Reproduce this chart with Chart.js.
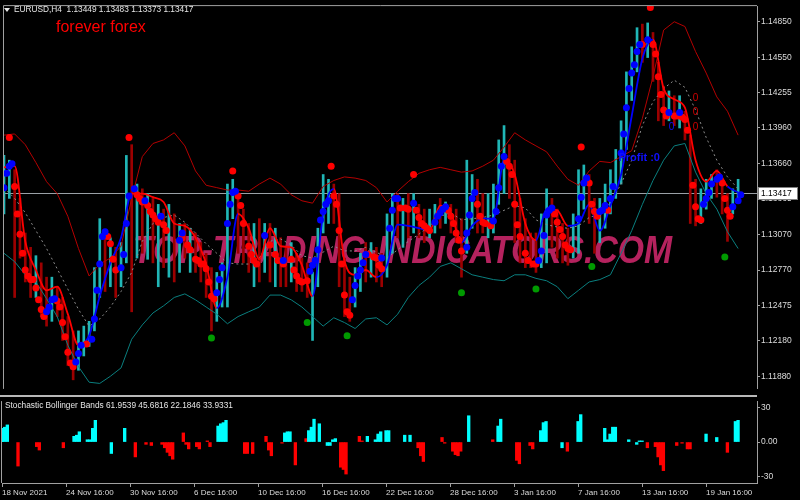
<!DOCTYPE html>
<html>
<head>
<meta charset="utf-8">
<script src="https://cdn.jsdelivr.net/npm/chart.js@4.4.0/dist/chart.umd.min.js"></script>
<style>
    html, body { margin: 0; padding: 0; background: #000; }
    #wrap { position: relative; width: 800px; height: 500px; background: #000; overflow: hidden; }
    #price_chart { position: absolute; left: 0; top: 0; }
    #osc_chart { position: absolute; left: 0; top: 395px; }
</style>
</head>
<body>
<div id="wrap">
    <canvas id="price_chart" width="800" height="395"></canvas>
    <canvas id="osc_chart" width="800" height="105"></canvas>
</div>
<script>
// EURUSD H4, every 2nd bar (bar index = 2 * i)
var barHigh = [1.1373, 1.1369, 1.1361, 1.1337, 1.1308, 1.1296, 1.1289, 1.1283, 1.1271, 1.1271,
    1.1263, 1.1254, 1.1238, 1.1226, 1.1226, 1.1230, 1.1234, 1.1279, 1.1320, 1.1308,
    1.1304, 1.1296, 1.1300, 1.1373, 1.1382, 1.1349, 1.1345, 1.1341, 1.1337, 1.1332,
    1.1328, 1.1332, 1.1324, 1.1316, 1.1316, 1.1312, 1.1308, 1.1300, 1.1291, 1.1279,
    1.1275, 1.1283, 1.1349, 1.1353, 1.1341, 1.1328, 1.1316, 1.1316, 1.1320, 1.1316,
    1.1316, 1.1312, 1.1304, 1.1296, 1.1300, 1.1291, 1.1287, 1.1283, 1.1275, 1.1312,
    1.1357, 1.1353, 1.1349, 1.1341, 1.1287, 1.1271, 1.1279, 1.1291, 1.1300, 1.1300,
    1.1296, 1.1291, 1.1324, 1.1341, 1.1341, 1.1337, 1.1341, 1.1341, 1.1332, 1.1328,
    1.1328, 1.1332, 1.1337, 1.1334, 1.1332, 1.1328, 1.1320, 1.1369, 1.1357, 1.1353,
    1.1341, 1.1341, 1.1349, 1.1386, 1.1398, 1.1382, 1.1369, 1.1337, 1.1320, 1.1308,
    1.1308, 1.1324, 1.1345, 1.1337, 1.1328, 1.1316, 1.1312, 1.1324, 1.1361, 1.1365,
    1.1357, 1.1337, 1.1337, 1.1349, 1.1361, 1.1378, 1.1402, 1.1443, 1.1464, 1.1480,
    1.1483, 1.1484, 1.1476, 1.1451, 1.1431, 1.1427, 1.1423, 1.1423, 1.1410, 1.1390,
    1.1353, 1.1345, 1.1353, 1.1357, 1.1361, 1.1353, 1.1341, 1.1345, 1.1353];
var barLow = [1.1324, 1.1337, 1.1254, 1.1287, 1.1267, 1.1254, 1.1254, 1.1238, 1.1230, 1.1234,
    1.1238, 1.1218, 1.1197, 1.1185, 1.1193, 1.1205, 1.1213, 1.1226, 1.1254, 1.1259,
    1.1263, 1.1254, 1.1263, 1.1283, 1.1242, 1.1287, 1.1291, 1.1286, 1.1283, 1.1263,
    1.1279, 1.1271, 1.1267, 1.1275, 1.1287, 1.1275, 1.1275, 1.1267, 1.1254, 1.1226,
    1.1234, 1.1246, 1.1246, 1.1320, 1.1291, 1.1283, 1.1275, 1.1263, 1.1267, 1.1275,
    1.1267, 1.1263, 1.1263, 1.1263, 1.1267, 1.1259, 1.1259, 1.1254, 1.1218, 1.1263,
    1.1308, 1.1316, 1.1316, 1.1263, 1.1238, 1.1234, 1.1246, 1.1259, 1.1267, 1.1271,
    1.1267, 1.1263, 1.1271, 1.1291, 1.1304, 1.1296, 1.1304, 1.1308, 1.1304, 1.1300,
    1.1304, 1.1308, 1.1312, 1.1316, 1.1308, 1.1300, 1.1271, 1.1291, 1.1312, 1.1308,
    1.1308, 1.1304, 1.1308, 1.1332, 1.1341, 1.1337, 1.1300, 1.1283, 1.1279, 1.1279,
    1.1275, 1.1279, 1.1283, 1.1296, 1.1287, 1.1283, 1.1281, 1.1287, 1.1291, 1.1328,
    1.1316, 1.1291, 1.1300, 1.1312, 1.1324, 1.1337, 1.1349, 1.1378, 1.1419, 1.1443,
    1.1451, 1.1455, 1.1435, 1.1402, 1.1398, 1.1402, 1.1398, 1.1396, 1.1386, 1.1316,
    1.1314, 1.1316, 1.1328, 1.1337, 1.1338, 1.1324, 1.1301, 1.1324, 1.1337];
// u = bull bar, d = bear bar
var barDir = 'uudddduddu' + 'dddduuuuud' + 'uduudududu' + 'dudududddd' + 'uuuudddudu' +
    'dudduddduu' + 'uudddduudu' + 'dduudududd' + 'uududdduud' + 'duuuuddddd' +
    'duudddduuu' + 'dduuuuuuuu' + 'dudddududd' + 'duuuddduu';

// bollinger bands, every 4th bar
var bandUpper = [1.1390, 1.1391, 1.1382, 1.1367, 1.1351, 1.1341, 1.1322, 1.1295, 1.1272, 1.1282,
    1.1287, 1.1297, 1.1337, 1.1372, 1.1383, 1.1386, 1.1392, 1.1381, 1.1360, 1.1348,
    1.1346, 1.1344, 1.1344, 1.1343, 1.1349, 1.1354, 1.1349, 1.1340, 1.1335, 1.1333,
    1.1347, 1.1352, 1.1355, 1.1354, 1.1352, 1.1346, 1.1334, 1.1343, 1.1351, 1.1358,
    1.1361, 1.1363, 1.1361, 1.1359, 1.1360, 1.1364, 1.1369, 1.1380, 1.1392, 1.1386,
    1.1381, 1.1376, 1.1364, 1.1353, 1.1348, 1.1360, 1.1368, 1.1367, 1.1372, 1.1377,
    1.1404, 1.1439, 1.1478, 1.1485, 1.1481, 1.1460, 1.1442, 1.1422, 1.1410, 1.1390];
var bandMid = [1.1346, 1.1337, 1.1325, 1.1310, 1.1295, 1.1278, 1.1261, 1.1244, 1.1230, 1.1236,
    1.1246, 1.1259, 1.1275, 1.1301, 1.1316, 1.1321, 1.1323, 1.1317, 1.1308, 1.1299,
    1.1291, 1.1283, 1.1282, 1.1282, 1.1287, 1.1301, 1.1303, 1.1298, 1.1289, 1.1287,
    1.1292, 1.1297, 1.1293, 1.1293, 1.1296, 1.1292, 1.1287, 1.1294, 1.1301, 1.1307,
    1.1314, 1.1322, 1.1325, 1.1319, 1.1320, 1.1321, 1.1323, 1.1327, 1.1331, 1.1329,
    1.1319, 1.1315, 1.1313, 1.1312, 1.1314, 1.1321, 1.1324, 1.1334, 1.1349, 1.1369,
    1.1398, 1.1418, 1.1429, 1.1436, 1.1430, 1.1411, 1.1388, 1.1369, 1.1355, 1.1345];
var bandLower = [1.1291, 1.1284, 1.1273, 1.1267, 1.1253, 1.1238, 1.1214, 1.1196, 1.1183, 1.1182,
    1.1188, 1.1195, 1.1219, 1.1231, 1.1241, 1.1247, 1.1254, 1.1257, 1.1252, 1.1246,
    1.1240, 1.1232, 1.1238, 1.1242, 1.1246, 1.1256, 1.1256, 1.1252, 1.1246, 1.1238,
    1.1230, 1.1237, 1.1233, 1.1228, 1.1236, 1.1237, 1.1231, 1.1240, 1.1254, 1.1264,
    1.1271, 1.1280, 1.1283, 1.1278, 1.1273, 1.1271, 1.1269, 1.1268, 1.1273, 1.1273,
    1.1270, 1.1268, 1.1263, 1.1253, 1.1260, 1.1267, 1.1269, 1.1273, 1.1291, 1.1310,
    1.1332, 1.1352, 1.1369, 1.1381, 1.1383, 1.1359, 1.1341, 1.1328, 1.1309, 1.1295];

// trend line, every 4th bar; r = falling (red), b = rising (blue)
var trendLine = [1.1363, 1.1364, 1.1301, 1.1277, 1.1260, 1.1263, 1.1240, 1.1214, 1.1222, 1.1255,
    1.1283, 1.1304, 1.1341, 1.1341, 1.1338, 1.1334, 1.1316, 1.1314, 1.1304, 1.1282,
    1.1245, 1.1271, 1.1324, 1.1312, 1.1286, 1.1312, 1.1297, 1.1296, 1.1281, 1.1255,
    1.1324, 1.1345, 1.1285, 1.1273, 1.1277, 1.1271, 1.1281, 1.1315, 1.1314, 1.1312,
    1.1310, 1.1331, 1.1325, 1.1300, 1.1314, 1.1320, 1.1320, 1.1369, 1.1357, 1.1316,
    1.1302, 1.1328, 1.1327, 1.1314, 1.1316, 1.1332, 1.1310, 1.1331, 1.1357, 1.1406,
    1.1454, 1.1470, 1.1429, 1.1420, 1.1413, 1.1369, 1.1351, 1.1360, 1.1347, 1.1342];
var trendDir = 'rrrrrrrrbb' + 'bbbrrrrrrr' + 'rbbrrrrrrr' + 'bbrrrrbbbb' + 'brrrbbbbrr' + 'rbrrbbbbbb' + 'bbrrrrrrrb';

// signal dots (bar index, price)
var redDotBar = [2, 4, 5, 6, 7, 8, 9, 10, 11, 12, 13, 14, 15, 20, 21, 22, 23, 24, 25, 26,
    31, 39, 40, 41, 42, 47, 50, 51, 52, 54, 55, 56, 57, 58, 60, 61, 67, 69, 70, 72,
    73, 74, 75, 76, 77, 78, 79, 86, 88, 89, 90, 92, 93, 94, 95, 100, 102, 103, 105, 108,
    109, 110, 111, 112, 114, 123, 124, 125, 126, 127, 128, 129, 130, 137, 139, 140, 141, 142, 149, 151,
    152, 154, 155, 156, 157, 158, 159, 160, 167, 168, 169, 170, 171, 172, 178, 179, 180, 181, 183, 189,
    190, 191, 192, 193, 194, 196, 197, 199, 200, 207, 208, 209, 210, 211, 212, 213, 217, 220, 221, 222,
    223, 227, 240, 243, 244, 245, 246, 247, 248, 249, 252, 253, 255, 256, 257, 259, 260, 261, 262, 270,
    271, 272, 273];
var redDotVal = [1.1388, 1.1347, 1.1324, 1.1307, 1.1291, 1.1277, 1.1272, 1.1269, 1.1269, 1.1262,
    1.1252, 1.1244, 1.1238, 1.1251, 1.1246, 1.1233, 1.1221, 1.1208, 1.1199, 1.1196,
    1.1215, 1.1305, 1.1299, 1.1286, 1.1277, 1.1388, 1.1340, 1.1337, 1.1334, 1.1331,
    1.1326, 1.1323, 1.1320, 1.1317, 1.1315, 1.1310, 1.1304, 1.1298, 1.1294, 1.1286,
    1.1285, 1.1282, 1.1282, 1.1278, 1.1267, 1.1255, 1.1253, 1.1360, 1.1339, 1.1331,
    1.1316, 1.1297, 1.1290, 1.1285, 1.1282, 1.1298, 1.1290, 1.1285, 1.1282, 1.1286,
    1.1277, 1.1272, 1.1268, 1.1267, 1.1268, 1.1364, 1.1339, 1.1332, 1.1310, 1.1282,
    1.1256, 1.1242, 1.1239, 1.1290, 1.1288, 1.1287, 1.1281, 1.1278, 1.1329, 1.1329,
    1.1328, 1.1357, 1.1327, 1.1321, 1.1316, 1.1314, 1.1312, 1.1310, 1.1327, 1.1322,
    1.1316, 1.1308, 1.1302, 1.1293, 1.1332, 1.1322, 1.1317, 1.1316, 1.1314, 1.1368,
    1.1364, 1.1357, 1.1332, 1.1315, 1.1305, 1.1291, 1.1285, 1.1282, 1.1282, 1.1324,
    1.1317, 1.1311, 1.1305, 1.1298, 1.1295, 1.1294, 1.1380, 1.1350, 1.1332, 1.1326,
    1.1322, 1.1327, 1.1466, 1.1497, 1.1466, 1.1458, 1.1439, 1.1424, 1.1411, 1.1406,
    1.1406, 1.1406, 1.1405, 1.1403, 1.1394, 1.1348, 1.1330, 1.1320, 1.1319, 1.1350,
    1.1337, 1.1327, 1.1322];
var blueDotBar = [0, 1, 2, 3, 16, 17, 18, 19, 27, 28, 29, 33, 34, 35, 36, 37, 38, 44, 45, 46,
    47, 49, 53, 59, 66, 67, 80, 81, 82, 84, 85, 86, 87, 98, 105, 115, 116, 117, 118, 119,
    120, 121, 122, 131, 132, 133, 134, 135, 136, 142, 145, 146, 147, 148, 154, 162, 163, 164, 165, 166,
    174, 174, 175, 176, 177, 184, 185, 186, 187, 188, 201, 202, 203, 204, 205, 206, 216, 217, 218, 219,
    224, 225, 226, 228, 229, 232, 233, 234, 235, 236, 237, 238, 239, 242, 250, 254, 263, 264, 265, 266,
    268, 269, 274, 276, 277];
var blueDotVal = [1.1346, 1.1358, 1.1364, 1.1366, 1.1242, 1.1246, 1.1252, 1.1253, 1.1200, 1.1207,
    1.1214, 1.1219, 1.1236, 1.1260, 1.1282, 1.1305, 1.1309, 1.1279, 1.1290, 1.1316,
    1.1339, 1.1345, 1.1335, 1.1322, 1.1302, 1.1308, 1.1258, 1.1269, 1.1279, 1.1316,
    1.1332, 1.1342, 1.1343, 1.1306, 1.1285, 1.1276, 1.1281, 1.1285, 1.1294, 1.1319,
    1.1326, 1.1332, 1.1335, 1.1252, 1.1264, 1.1272, 1.1277, 1.1283, 1.1290, 1.1287,
    1.1312, 1.1327, 1.1337, 1.1337, 1.1333, 1.1317, 1.1322, 1.1325, 1.1328, 1.1330,
    1.1296, 1.1308, 1.1323, 1.1337, 1.1342, 1.1318, 1.1326, 1.1346, 1.1364, 1.1372,
    1.1285, 1.1293, 1.1306, 1.1323, 1.1327, 1.1329, 1.1320, 1.1338, 1.1350, 1.1354,
    1.1326, 1.1327, 1.1331, 1.1337, 1.1347, 1.1375, 1.1391, 1.1413, 1.1429, 1.1442,
    1.1449, 1.1460, 1.1466, 1.1470, 1.1409, 1.1409, 1.1332, 1.1337, 1.1342, 1.1349,
    1.1353, 1.1355, 1.1330, 1.1335, 1.1340];
var greenDotBar = [78, 114, 129, 172, 200, 221, 271];
var greenDotVal = [1.1220, 1.1233, 1.1222, 1.1258, 1.1261, 1.1280, 1.1288];

// text marks on the chart
var profitNoteBar = 231, profitNoteVal = 1.1371;
var redNoteBar = [260, 260, 260];
var redNoteVal = [1.1421, 1.1409, 1.1397];
var blueNoteBar = [251];
var blueNoteVal = [1.1397];

// Stochastic Bollinger Bands histogram (bar index, value)
var cyanBar = [0, 1, 2, 27, 28, 29, 32, 33, 34, 35, 41, 46, 81, 82, 83, 84, 106, 107, 108, 115,
    116, 117, 119, 122, 123, 124, 125, 137, 140, 141, 142, 144, 145, 151, 153, 175, 186, 187, 202, 203,
    204, 210, 216, 217, 226, 227, 228, 229, 230, 235, 238, 239, 240, 264, 268, 275, 276];
var cyanVal = [12, 13, 15, 5, 6, 9, 2, 2, 12, 19, -10, 12, 14, 16, 17, 19, 8, 9, 9, 10,
    13, 20, 16, -3, -3, 2, 3, 5, 2, 7, 9, 10, 10, 6, 6, 23, 14, 20, 10, 17,
    18, -5, 18, 24, 12, 2, 7, 13, 13, 2, -2, 1, 1, 7, 4, 18, 19];
var redBar = [6, 13, 14, 23, 50, 54, 56, 60, 61, 62, 63, 64, 68, 69, 70, 73, 74, 77, 78, 91,
    92, 94, 99, 100, 101, 105, 110, 114, 127, 128, 129, 134, 135, 156, 157, 158, 165, 166, 169, 170,
    171, 172, 184, 193, 194, 198, 199, 212, 242, 245, 246, 247, 248, 253, 255, 257, 258, 272];
var redVal = [-21, -4, -7, -5, -13, -2, -3, -2, -5, -9, -12, -15, 8, -2, -6, -4, -6, 1, -4, -10,
    -10, -10, 5, -7, -12, -1, -20, 3, -22, -24, -28, 5, 1, -5, -12, -17, 4, -1, -8, -11,
    -12, -8, 2, -16, -19, -3, -6, -8, -5, -4, -13, -20, -25, -3, -1, -6, -6, -9];

// axes
var priceTicks = [1.14850, 1.14550, 1.14255, 1.13960, 1.13660, 1.13365, 1.13070, 1.12770, 1.12475, 1.12180, 1.11880];
var oscTicks = [30, 0, -30];
var dateTicks = [0, 24, 48, 72, 96, 120, 144, 168, 192, 216, 240, 264];
var dateLabels = ['18 Nov 2021', '24 Nov 16:00', '30 Nov 16:00', '6 Dec 16:00', '10 Dec 16:00', '16 Dec 16:00',
    '22 Dec 16:00', '28 Dec 16:00', '3 Jan 16:00', '7 Jan 16:00', '13 Jan 16:00', '19 Jan 16:00'];
var lastQuote = [1.13449, 1.13483, 1.13373, 1.13417];
var oscLast = [61.9539, 45.6816, 22.1846, 33.9331];

var FONT = '"Liberation Sans", Arial, sans-serif';
var FRAME = '#a0a0a0';
var TXT = '#dcdcdc';
var X_MAX = 283.1;

function pts(xs, ys) {
    return xs.map(function (x, i) { return {x: x, y: ys[i]} })
}

var barsUp = [], barsDn = [];
barHigh.forEach(function (h, i) {
    var p = {x: i * 2, y: [barLow[i], h]};
    if (barDir[i] === 'u') barsUp.push(p); else barsDn.push(p);
});
var bandX = bandUpper.map(function (v, i) { return i * 4 });

function dotSet(xs, ys, color, order) {
    return {
        type: 'line', data: pts(xs, ys), showLine: false, order: order,
        pointRadius: 3.5, pointBorderWidth: 0, pointBackgroundColor: color
    }
}

function lineSet(ys, color, width, dash, order) {
    return {
        type: 'line', data: pts(bandX, ys), order: order,
        borderColor: color, borderWidth: width, borderDash: dash, pointRadius: 0, tension: 0
    }
}

// 图表边框 + 文字
var priceDecor = {
    id: 'priceDecor',
    beforeDatasetsDraw: function (chart) {
        var c = chart.ctx, a = chart.chartArea;
        c.save();
        // watermark
        var txt = 'TOP-TRADING-INDICATORS.COM';
        c.font = 'italic bold 39px ' + FONT;
        var w = c.measureText(txt).width;
        c.translate(133, 263);
        c.scale(539 / w, 1);
        c.fillStyle = '#b5225e';
        c.textBaseline = 'alphabetic';
        c.fillText(txt, 0, 0);
        c.restore();

        // bid line
        var py = chart.scales.y.getPixelForValue(lastQuote[3]);
        c.save();
        c.strokeStyle = '#9aa0a6';
        c.lineWidth = 1;
        c.beginPath();
        c.moveTo(a.left, Math.round(py) + 0.5);
        c.lineTo(a.right, Math.round(py) + 0.5);
        c.stroke();
        c.restore();
    },
    afterDraw: function (chart) {
        var c = chart.ctx, a = chart.chartArea, sx = chart.scales.x, sy = chart.scales.y;
        c.save();
        // frame
        c.strokeStyle = FRAME;
        c.lineWidth = 1;
        c.beginPath();
        c.moveTo(a.left - 0.5, a.bottom);
        c.lineTo(a.left - 0.5, a.top - 0.5);
        c.lineTo(a.right, a.top - 0.5);
        c.stroke();

        // header
        c.fillStyle = '#e6e6e6';
        c.beginPath();
        c.moveTo(4, 8); c.lineTo(10, 8); c.lineTo(7, 12); c.closePath();
        c.fill();
        c.font = '8.3px ' + FONT;
        c.textBaseline = 'middle';
        c.textAlign = 'left';
        c.fillText('EURUSD,H4  ' + lastQuote.map(function (v) { return v.toFixed(5) }).join(' '), 14, 10);
        c.fillStyle = '#ff0000';
        c.font = '16px ' + FONT;
        c.fillText('forever forex', 56, 28);

        // notes
        c.font = 'bold 11px ' + FONT;
        c.fillStyle = '#1010ff';
        c.fillText('Profit :0', sx.getPixelForValue(profitNoteBar), sy.getPixelForValue(profitNoteVal));
        c.font = '10px ' + FONT;
        c.textAlign = 'center';
        c.fillStyle = '#d00000';
        redNoteBar.forEach(function (b, i) {
            c.fillText('0', sx.getPixelForValue(b), sy.getPixelForValue(redNoteVal[i]));
        });
        c.fillStyle = '#1010ff';
        blueNoteBar.forEach(function (b, i) {
            c.fillText('0', sx.getPixelForValue(b), sy.getPixelForValue(blueNoteVal[i]));
        });

        // bid label
        var py = Math.round(sy.getPixelForValue(lastQuote[3]));
        c.fillStyle = '#ffffff';
        c.fillRect(758, py - 6, 40, 13);
        c.strokeStyle = '#808080';
        c.strokeRect(758.5, py - 5.5, 39, 12);
        c.fillStyle = '#000000';
        c.textAlign = 'left';
        c.font = '8.5px ' + FONT;
        c.fillText(lastQuote[3].toFixed(5), 761, py + 0.5);
        c.restore();
    }
};

var oscDecor = {
    id: 'oscDecor',
    afterDraw: function (chart) {
        var c = chart.ctx, a = chart.chartArea;
        c.save();
        c.fillStyle = '#b8b8b8';
        c.fillRect(0, 0, a.right, 2);
        c.strokeStyle = FRAME;
        c.lineWidth = 1;
        c.beginPath();
        c.moveTo(a.left - 0.5, a.top);
        c.lineTo(a.left - 0.5, a.bottom);
        c.stroke();
        c.fillStyle = '#e6e6e6';
        c.font = '8.3px ' + FONT;
        c.textBaseline = 'middle';
        c.fillText('Stochastic Bollinger Bands ' + oscLast.map(function (v) { return v.toFixed(4) }).join(' '), 5, 11);
        c.restore();
    }
};

var priceChart = new Chart(document.getElementById('price_chart').getContext('2d'), {
    type: 'bar',
    data: {
        datasets: [
            dotSet(greenDotBar, greenDotVal, '#009a00', 0),
            dotSet(blueDotBar, blueDotVal, '#0000ff', 1),
            dotSet(redDotBar, redDotVal, '#ff0000', 2),
            {
                type: 'line', data: pts(bandX, trendLine), order: 3,
                borderWidth: 1.8, pointRadius: 0, cubicInterpolationMode: 'monotone',
                borderColor: '#ff0000',
                segment: {
                    borderColor: function (ctx) {
                        return trendDir[ctx.p1DataIndex] === 'b' ? '#0000ff' : '#ff0000'
                    }
                }
            },
            lineSet(bandMid, '#8c8c8c', 1, [2, 3], 4),
            lineSet(bandUpper, '#b40000', 1, [], 5),
            lineSet(bandLower, '#0a7f7f', 1, [], 6),
            {data: barsUp, backgroundColor: '#20b6b6', barThickness: 2, grouped: false, order: 7},
            {data: barsDn, backgroundColor: '#9c0000', barThickness: 2, grouped: false, order: 8}
        ]
    },
    options: {
        responsive: false,
        animation: false,
        events: [],
        layout: {padding: {left: 2, top: 3, right: 0, bottom: 1}},
        plugins: {legend: {display: false}, tooltip: {enabled: false}},
        scales: {
            x: {type: 'linear', min: 0, max: X_MAX, offset: false, display: false, grid: {offset: false}},
            y: {
                type: 'linear', position: 'right', min: 1.11774, max: 1.14981, beginAtZero: false,
                afterBuildTicks: function (scale) {
                    scale.ticks = priceTicks.map(function (v) { return {value: v} })
                },
                afterFit: function (scale) { scale.width = 43 },
                ticks: {
                    color: TXT, font: {family: FONT, size: 8.5}, padding: 1,
                    callback: function (v) { return v.toFixed(5) }
                },
                grid: {drawOnChartArea: false, tickLength: 3, color: FRAME},
                border: {color: FRAME}
            }
        }
    },
    plugins: [priceDecor]
});

var oscChart = new Chart(document.getElementById('osc_chart').getContext('2d'), {
    type: 'bar',
    data: {
        datasets: [
            {data: pts(cyanBar, cyanVal), backgroundColor: '#00ffff', grouped: false, barPercentage: 1, categoryPercentage: 1},
            {data: pts(redBar, redVal), backgroundColor: '#ff0000', grouped: false, barPercentage: 1, categoryPercentage: 1}
        ]
    },
    options: {
        responsive: false,
        animation: false,
        events: [],
        layout: {padding: {left: 2, top: 2, right: 0, bottom: 0}},
        plugins: {legend: {display: false}, tooltip: {enabled: false}},
        scales: {
            x: {
                type: 'linear', min: 0, max: X_MAX, offset: false,
                afterBuildTicks: function (scale) {
                    scale.ticks = dateTicks.map(function (v) { return {value: v} })
                },
                afterFit: function (scale) { scale.height = 17 },
                ticks: {
                    color: TXT, font: {family: FONT, size: 8}, align: 'start', autoSkip: false,
                    maxRotation: 0, padding: 1,
                    callback: function (v, i) { return dateLabels[i] }
                },
                grid: {drawOnChartArea: false, tickLength: 4, color: FRAME, offset: false},
                border: {color: FRAME}
            },
            y: {
                type: 'linear', position: 'right', min: -35.83, max: 35.83, beginAtZero: false,
                afterBuildTicks: function (scale) {
                    scale.ticks = oscTicks.map(function (v) { return {value: v} })
                },
                afterFit: function (scale) { scale.width = 43 },
                ticks: {
                    color: TXT, font: {family: FONT, size: 8.5}, padding: 1,
                    callback: function (v) { return v === 0 ? '0.00' : String(v) }
                },
                grid: {drawOnChartArea: false, tickLength: 3, color: FRAME},
                border: {color: FRAME}
            }
        }
    },
    plugins: [oscDecor]
});
</script>
</body>
</html>
